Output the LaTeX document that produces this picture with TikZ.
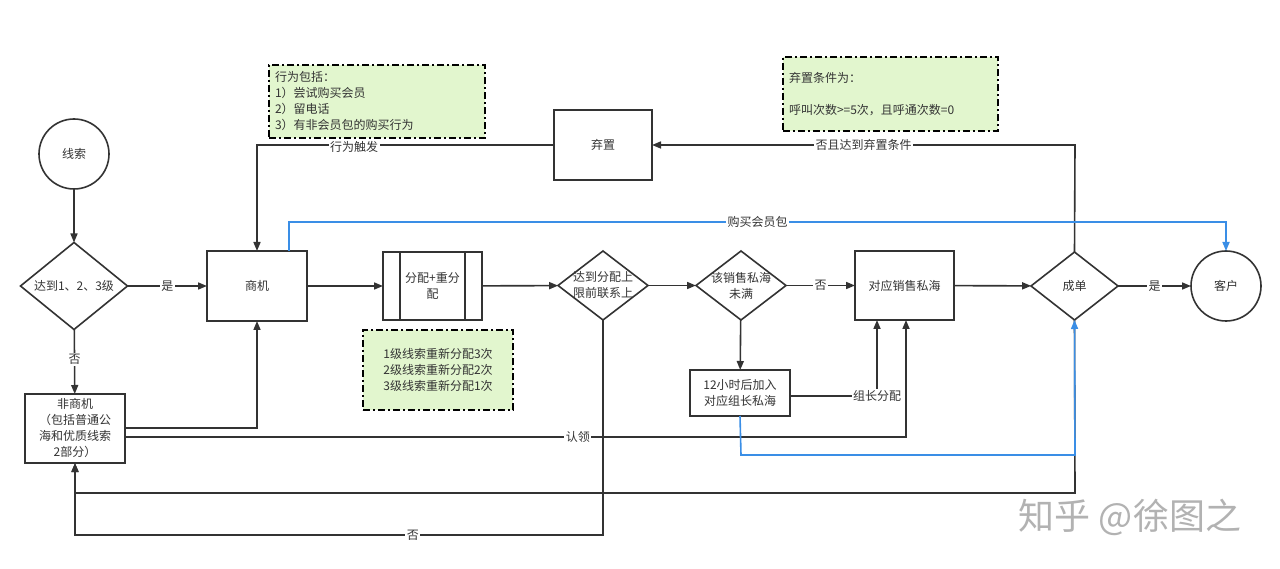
\documentclass[tikz,border=0pt]{standalone}
\usepackage{fontspec}
\setmainfont{Noto Sans CJK SC}
\usetikzlibrary{shapes.geometric,arrows.meta}
\definecolor{ln}{HTML}{333333}
\definecolor{tx}{HTML}{333333}
\definecolor{bl}{HTML}{3A8EE6}
\definecolor{notefill}{HTML}{E2F6CE}
\begin{document}
\begin{tikzpicture}[x=1pt,y=-1pt,
  font=\fontsize{12}{16}\selectfont, text=tx,
  every node/.style={inner sep=0pt, outer sep=0pt},
  shp/.style={draw=ln, line width=1.6pt, fill=white},
  boxn/.style={shp, rectangle, align=center},
  circn/.style={shp, circle, minimum size=70pt},
  dia/.style={shp, diamond},
  dtext/.style={align=center, text=tx},
  notebox/.style={draw=black, line width=1.6pt, fill=notefill,
     dash pattern=on 7pt off 3pt on 2pt off 3pt, rectangle, align=left},
  arr/.style={draw=ln, line width=1.6pt, -{Triangle[length=9pt,width=7pt]}},
  barr/.style={draw=bl, line width=1.6pt, -{Triangle[length=9pt,width=7pt]}},
  lab/.style={fill=white, inner sep=1.5pt, text=tx},
  proc/.style={shp, rectangle, align=center}
]
\useasboundingbox (0,0) rectangle (1280,569);
\fill[white] (0,0) rectangle (1280,569);

% nodes
\node[circn] (xs) at (74,154) {线索};
\node[dia, minimum width=107pt, minimum height=87pt, aspect=1.23] (d1) at (74,286) {};
\node[dtext] (d1t) at (d1) {达到1、2、3级};
\node[boxn, minimum width=100pt, minimum height=70pt] (sj) at (257,286) {商机};
\node[boxn, minimum width=100pt, minimum height=69pt] (fsj) at (75,428.5) {非商机\\（包括普通公\\海和优质线索\\2部分）};
\node[proc, minimum width=99pt, minimum height=68pt] (fp) at (432.5,286) {分配+重分\\配};
\draw[draw=ln, line width=1.6pt] (fp.north west) ++(17,0) -- ++(0,68);
\draw[draw=ln, line width=1.6pt] (fp.north east) ++(-17,0) -- ++(0,68);
\node[dia, minimum width=90pt, minimum height=69pt, aspect=1.3] (d2) at (603,285.5) {};
\node[dtext] (d2t) at (d2) {达到分配上\\限前联系上};
\node[dia, minimum width=90pt, minimum height=69pt, aspect=1.3] (d3) at (741,285.5) {};
\node[dtext] (d3t) at (d3) {该销售私海\\未满};
\node[boxn, minimum width=99pt, minimum height=69pt] (dy) at (904.5,285.5) {对应销售私海};
\node[boxn, minimum width=100pt, minimum height=46pt] (zz) at (740,393) {12小时后加入\\对应组长私海};
\node[dia, minimum width=87pt, minimum height=68pt, aspect=1.28] (cd) at (1074.5,286) {};
\node[dtext] (cdt) at (cd) {成单};
\node[circn] (kh) at (1226,286) {客户};
\node[boxn, minimum width=98pt, minimum height=70pt] (qz) at (603,145) {弃置};

% notes
\node[notebox, minimum width=216pt, minimum height=73pt, text width=204pt] (n1) at (377,101.5)
  {行为包括：\\1）尝试购买会员\\2）留电话\\3）有非会员包的购买行为};
\node[notebox, minimum width=150pt, minimum height=80pt, align=center] (n2) at (438,370)
  {1级线索重新分配3次\\2级线索重新分配2次\\3级线索重新分配1次};
\node[notebox, minimum width=215pt, minimum height=74pt, text width=203pt] (n3) at (890.5,94)
  {弃置条件为：\\[16pt]呼叫次数>=5次，且呼通次数=0};

% black connectors
\draw[arr] (xs) -- (d1);
\draw[arr] (d1) -- node[lab, pos=0.5] {是} (sj);
\draw[arr] (d1) -- node[lab, pos=0.47] {否} (fsj);
\draw[arr] (sj) -- (fp);
\draw[arr] (fp) -- (d2);
\draw[arr] (d2) -- (d3);
\draw[arr] (d3) -- node[lab, pos=0.5] {否} (dy);
\draw[arr] (d3) -- (zz);
\draw[arr] (dy) -- (cd);
\draw[arr] (cd) -- node[lab, pos=0.5] {是} (kh);
\draw[arr] (zz.east |- {(0,396)}) -- (877,396) node[lab] {组长分配} -- (dy.south -| {(877,0)});
\draw[arr] (fsj.east |- {(0,437)}) -- node[lab, pos=0.58] {认领} (906,437) -- (dy.south -| {(906,0)});
\draw[arr] (fsj.east |- {(0,428)}) -- (257,428) -- (sj.south);
\draw[arr] (qz.west) -- (257,145) -- (sj.north);
\node[lab] at (354,147) {行为触发};
\draw[arr] (cd.north) -- (1075,145) -- node[lab, pos=0.5] {否且达到弃置条件} (qz.east);
\draw[arr] (cd.south) -- (1075,493) -- (75,493) -- (fsj.south);
\draw[arr] (d2.south) -- (603,535) -- node[lab, pos=0.36] {否} (75,535) -- (fsj.south);

% blue connectors
\draw[barr] (sj.north -| {(289,0)}) -- (289,222) -- node[lab, pos=0.5] {购买会员包} (1226,222) -- (kh.north);
\draw[barr] (zz.south) -- (741,455) -- (1075,455) -- (cd.south);

% watermark
\node[text=black!30, font=\fontsize{36}{40}\selectfont] (wm) at (1130,517) {知乎 @徐图之};
\end{tikzpicture}
\end{document}
